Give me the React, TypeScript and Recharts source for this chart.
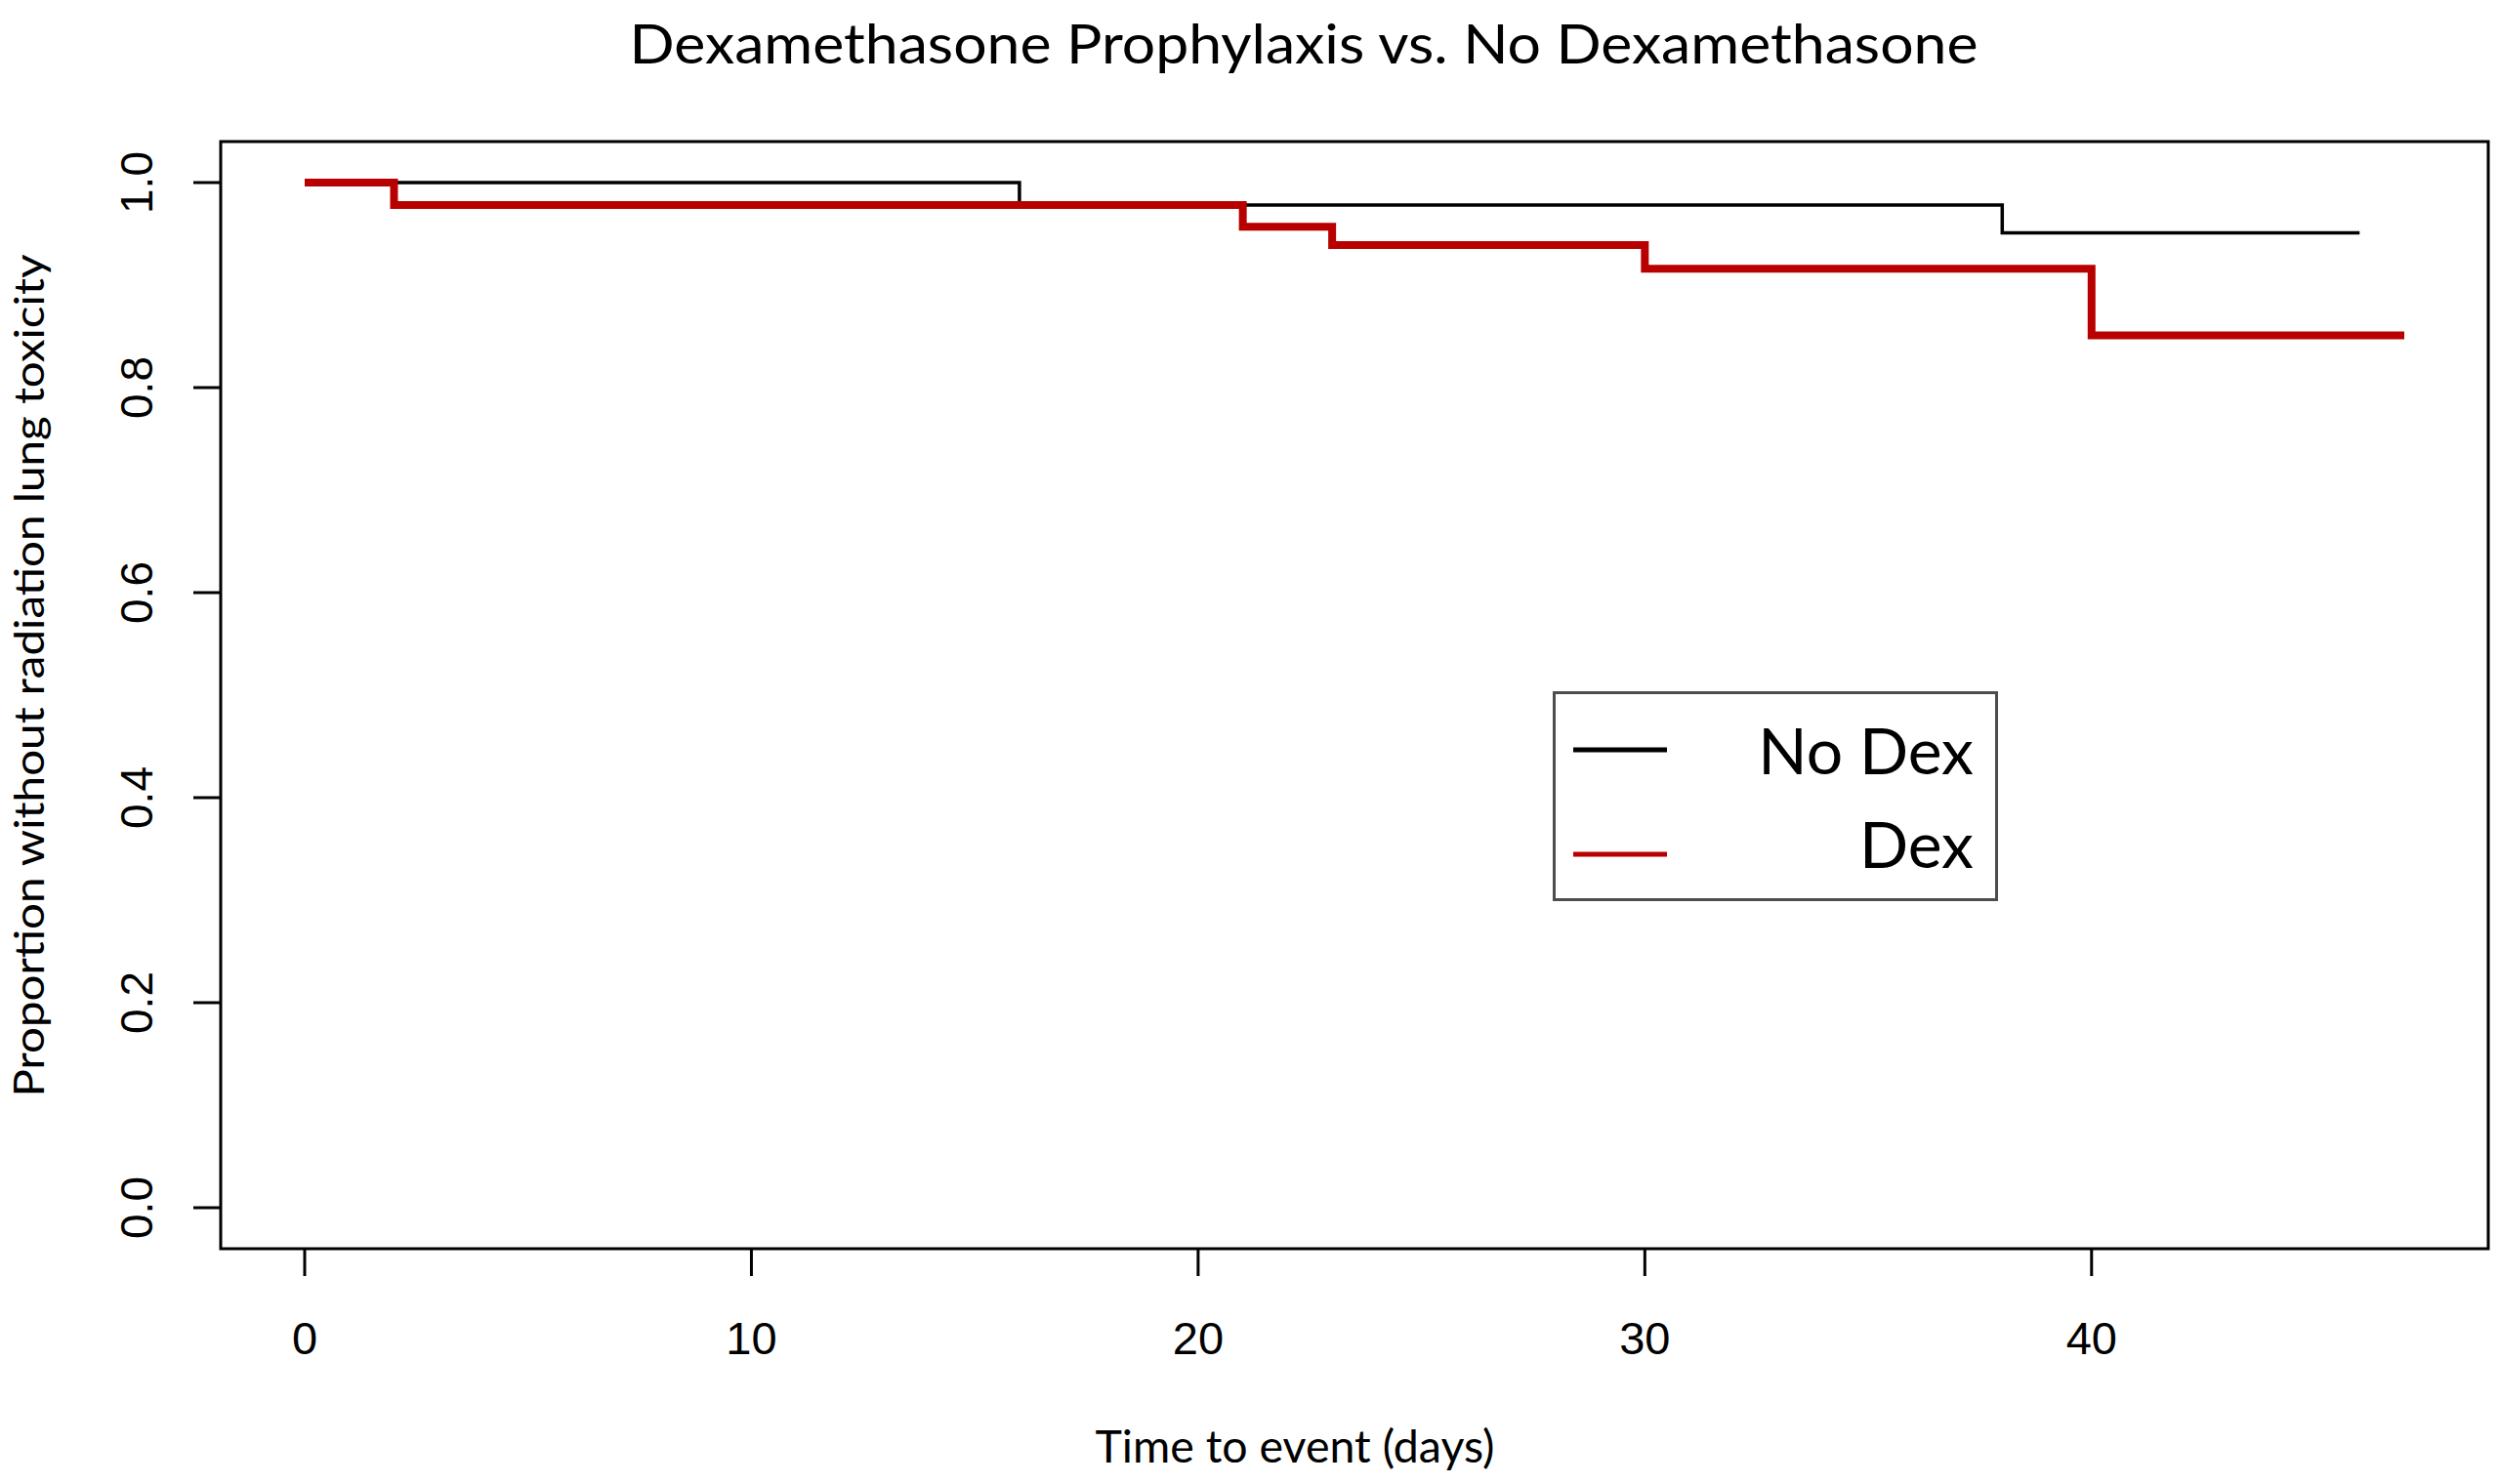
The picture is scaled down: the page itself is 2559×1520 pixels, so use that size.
import React from 'react';
import { LineChart, Line, XAxis, YAxis, ReferenceArea, Legend } from 'recharts';

// Kaplan-Meier step points (time in days, proportion without toxicity)
const noDexTimes = [0, 16, 38, 46];
const noDexSurv = [1.0, 0.978, 0.951, 0.951];
const dexTimes = [0, 2, 21, 23, 30, 40, 47];
const dexSurv = [1.0, 0.978, 0.957, 0.939, 0.916, 0.851, 0.851];

const xTicks = [0, 10, 20, 30, 40];
const yTicks = [0, 0.2, 0.4, 0.6, 0.8, 1.0];
const xDomain = [-1.88, 48.88];
const yDomain = [-0.04, 1.04];
const legendOrder = ['No Dex', 'Dex'];

const noDexData = noDexTimes.map((t, i) => ({ t, s: noDexSurv[i] }));
const dexData = dexTimes.map((t, i) => ({ t, s: dexSurv[i] }));

const LABEL_FONT = 'Lato, "Open Sans", sans-serif';
const TICK_FONT = '"Liberation Sans", Arial, sans-serif';
const RED = '#b80000';

const XTick = (props: any) => {
  const { x, y, payload } = props;
  return (
    <text x={x} y={y + 80} textAnchor="middle" fontFamily={TICK_FONT} fontSize={47} fill="#000">
      {payload.value}
    </text>
  );
};

const YTick = (props: any) => {
  const { x, y, payload } = props;
  return (
    <text
      transform={`translate(${x - 42},${y}) rotate(-90)`}
      textAnchor="middle"
      fontFamily={TICK_FONT}
      fontSize={46}
      fill="#000"
    >
      {Number(payload.value).toFixed(1)}
    </text>
  );
};

const ChartTitle = (props: any) => {
  const vb = props.viewBox;
  return (
    <text
      x={vb.x + vb.width / 2 - 52}
      y={vb.y - 80}
      textAnchor="middle"
      fontFamily={LABEL_FONT}
      fontSize={57}
      fill="#000"
      textLength={1381}
      lengthAdjust="spacingAndGlyphs"
    >
      Dexamethasone Prophylaxis vs. No Dexamethasone
    </text>
  );
};

const XTitle = (props: any) => {
  const vb = props.viewBox;
  return (
    <text
      x={vb.x + vb.width / 2 - 61}
      y={vb.y + 219}
      textAnchor="middle"
      fontFamily={LABEL_FONT}
      fontSize={46}
      fill="#000"
      textLength={409}
      lengthAdjust="spacingAndGlyphs"
    >
      Time to event (days)
    </text>
  );
};

const YTitle = (props: any) => {
  const vb = props.viewBox;
  const cy = vb.y + vb.height / 2 - 20;
  return (
    <text
      transform={`translate(45,${cy}) rotate(-90)`}
      textAnchor="middle"
      fontFamily={LABEL_FONT}
      fontSize={43}
      fill="#000"
      textLength={863}
      lengthAdjust="spacingAndGlyphs"
    >
      Proportion without radiation lung toxicity
    </text>
  );
};

const LegendBox = (props: any) => {
  const items = [...(props.payload || [])].sort(
    (a: any, b: any) => legendOrder.indexOf(a.value) - legendOrder.indexOf(b.value)
  );
  return (
    <svg width={456} height={215} style={{ display: 'block' }}>
      <rect x={1.5} y={1.5} width={453} height={212} fill="#fff" stroke="#4d4d4d" strokeWidth={3} />
      {items.map((it: any, i: number) => (
        <g key={it.value}>
          <line x1={21} x2={117} y1={60 + i * 107} y2={60 + i * 107} stroke={it.color} strokeWidth={5} />
          <text
            x={431}
            y={85 + i * 96}
            textAnchor="end"
            fontFamily={LABEL_FONT}
            fontSize={66}
            fill="#000"
          >
            {it.value}
          </text>
        </g>
      ))}
    </svg>
  );
};

export default function App() {
  return (
    <div style={{ position: 'absolute', left: 0, top: 0, background: '#fff' }}>
      <LineChart width={2559} height={1520} margin={{ top: 145, right: 11, bottom: 0, left: 0 }}>
        <XAxis
          type="number"
          dataKey="t"
          domain={xDomain}
          ticks={xTicks}
          allowDataOverflow
          height={241}
          axisLine={false}
          stroke="#000"
          tickLine={{ stroke: '#000', strokeWidth: 3 }}
          tickSize={28}
          tickMargin={0}
          tick={<XTick />}
          label={<XTitle />}
        />
        <YAxis
          type="number"
          domain={yDomain}
          ticks={yTicks}
          allowDataOverflow
          width={226}
          axisLine={false}
          stroke="#000"
          tickLine={{ stroke: '#000', strokeWidth: 3 }}
          tickSize={28}
          tickMargin={0}
          tick={<YTick />}
          label={<YTitle />}
        />
        <ReferenceArea
          x1={xDomain[0]}
          x2={xDomain[1]}
          y1={yDomain[0]}
          y2={yDomain[1]}
          fill="none"
          fillOpacity={0}
          stroke="#000"
          strokeWidth={3}
          strokeOpacity={1}
          ifOverflow="visible"
          label={<ChartTitle />}
        />
        <Line
          data={noDexData}
          dataKey="s"
          name="No Dex"
          type="stepAfter"
          stroke="#000"
          strokeWidth={3.5}
          dot={false}
          activeDot={false}
          isAnimationActive={false}
          legendType="line"
        />
        <Line
          data={dexData}
          dataKey="s"
          name="Dex"
          type="stepAfter"
          stroke={RED}
          strokeWidth={8}
          dot={false}
          activeDot={false}
          isAnimationActive={false}
          legendType="line"
        />
        <Legend
          layout="vertical"
          align="center"
          verticalAlign="middle"
          content={<LegendBox />}
          wrapperStyle={{ left: 1590, top: 708, width: 456, height: 215 }}
        />
      </LineChart>
    </div>
  );
}
